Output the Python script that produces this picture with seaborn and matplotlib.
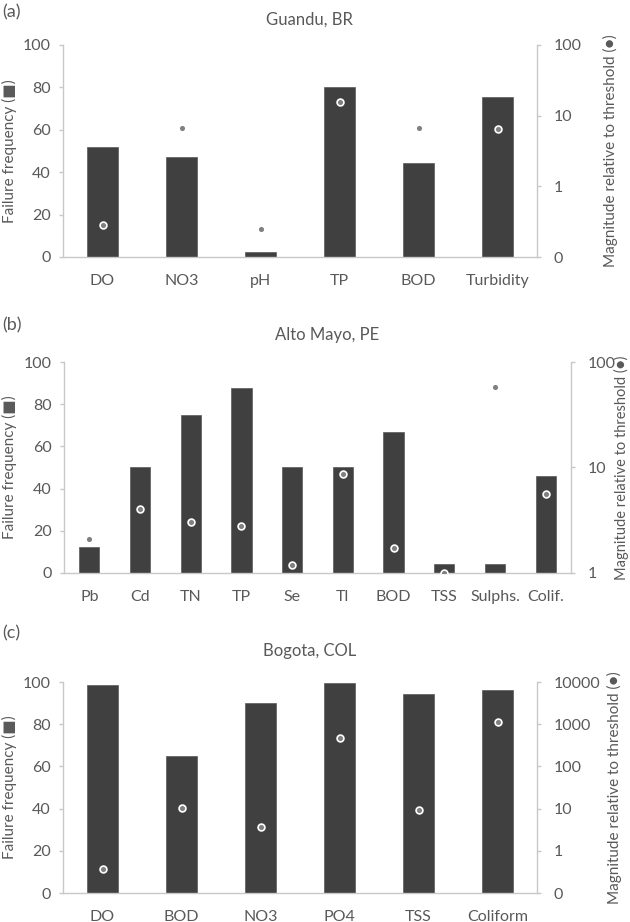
import numpy as np
import matplotlib.pyplot as plt
import seaborn as sns


# values
guandu_params = ["DO", "NO3", "pH", "TP", "BOD", "Turbidity"]
guandu_freq = [52, 47, 2.5, 80, 44.5, 75.5]
guandu_mag = [0.28, 6.8, 0.25, 15.6, 6.8, 6.4]

altomayo_params = ["Pb", "Cd", "TN", "TP", "Se", "Tl", "BOD", "TSS", "Sulphs.", "Colif."]
altomayo_freq = [12.5, 50, 75, 87.5, 50, 50, 66.7, 4.2, 4.2, 45.8]
altomayo_mag = [2.1, 4.0, 3.05, 2.8, 1.19, 8.7, 1.71, 1.01, 58, 5.6]

bogota_params = ["DO", "BOD", "NO3", "PO4", "TSS", "Coliform"]
bogota_freq = [98.8, 64.7, 90, 99.5, 94.2, 96.1]
bogota_mag = [0.38, 10.2, 3.7, 467, 9.1, 1135]

freq_ticks = [0, 20, 40, 60, 80, 100]
mag_ticks_a = [0.1, 1, 10, 100]
mag_ticks_b = [1, 10, 100]
mag_ticks_c = [0.1, 1, 10, 100, 1000, 10000]


sns.set_theme(style="white")
plt.rcParams["font.family"] = ["Lato", "DejaVu Sans"]

TXT = "#595959"
SPINE = "#c8c8c8"
BAR = "#404040"
DOT = "#808080"

W, H = 630, 922
fig = plt.figure(figsize=(W / 100, H / 100), dpi=100)

panels = [
    # letter, title, params, freq, mag, mag ticks, layout in px (left, right, top, bottom),
    # title y, letter y, right label left edge x, right label size
    ("(a)", "Guandu, BR", guandu_params, guandu_freq, guandu_mag, mag_ticks_a,
     (63, 537, 45, 257), 20, 12, 603, 11),
    ("(b)", "Alto Mayo, PE", altomayo_params, altomayo_freq, altomayo_mag, mag_ticks_b,
     (64, 571, 362, 573), 335, 325, 614, 10.5),
    ("(c)", "Bogota, COL", bogota_params, bogota_freq, bogota_mag, mag_ticks_c,
     (63, 537, 682, 893), 651, 633, 607, 11),
]

for letter, title, params, freq, mag, mticks, (l, r, t, b), ty, ly, rlx, rfs in panels:
    ax = fig.add_axes([l / W, 1 - b / H, (r - l) / W, (b - t) / H])
    sns.barplot(x=params, y=freq, ax=ax, color=BAR, saturation=1, width=0.4,
                edgecolor="#5a5a5a", linewidth=0.5)
    ax.set_ylim(0, 100)
    ax.set_yticks(freq_ticks)
    ax.set_xlim(-0.5, len(params) - 0.5)

    ax2 = ax.twinx()
    ax2.set_yscale("log")
    sns.scatterplot(x=np.arange(len(params)), y=mag, ax=ax2, s=24, color=DOT,
                    edgecolor="white", linewidth=1.2, zorder=3, legend=False)
    ax2.set_ylim(mticks[0], mticks[-1])
    ax2.set_yticks(mticks)
    ax2.set_yticklabels(["0" if v < 1 else str(int(v)) for v in mticks])
    ax2.minorticks_off()
    ax2.set_xlim(-0.5, len(params) - 0.5)

    for a in (ax, ax2):
        for s in a.spines.values():
            s.set_visible(False)
        a.tick_params(colors=TXT, labelsize=11.5, length=0)
        a.grid(False)
    ax.spines["left"].set_visible(True)
    ax.spines["bottom"].set_visible(True)
    ax2.spines["right"].set_visible(True)
    for s in (ax.spines["left"], ax.spines["bottom"], ax2.spines["right"]):
        s.set_color(SPINE)
        s.set_linewidth(1)
    ax.tick_params(axis="y", length=3, width=1, color=SPINE, pad=6)
    ax2.tick_params(axis="y", length=3, width=1, color=SPINE, pad=9)
    ax.tick_params(axis="x", pad=12, labelsize=11.5)

    # left label: x is its right edge; right label: x is its left edge
    ax.set_ylabel("Failure frequency (■)", color=TXT, fontsize=11)
    ax.yaxis.set_label_coords((17 - l) / (r - l), 0.5)
    ax2.set_ylabel("Magnitude relative to threshold (●)", color=TXT, fontsize=rfs)
    ax2.yaxis.set_label_coords((rlx - l) / (r - l), 0.5)
    ax.set_xlabel("")

    fig.text((l + r) / 2 / W + 0.015, 1 - ty / H, title, ha="center", va="center",
             color=TXT, fontsize=12)
    fig.text(2 / W, 1 - ly / H, letter, ha="left", va="center", color=TXT, fontsize=13)

plt.savefig("out.png", dpi=100)
